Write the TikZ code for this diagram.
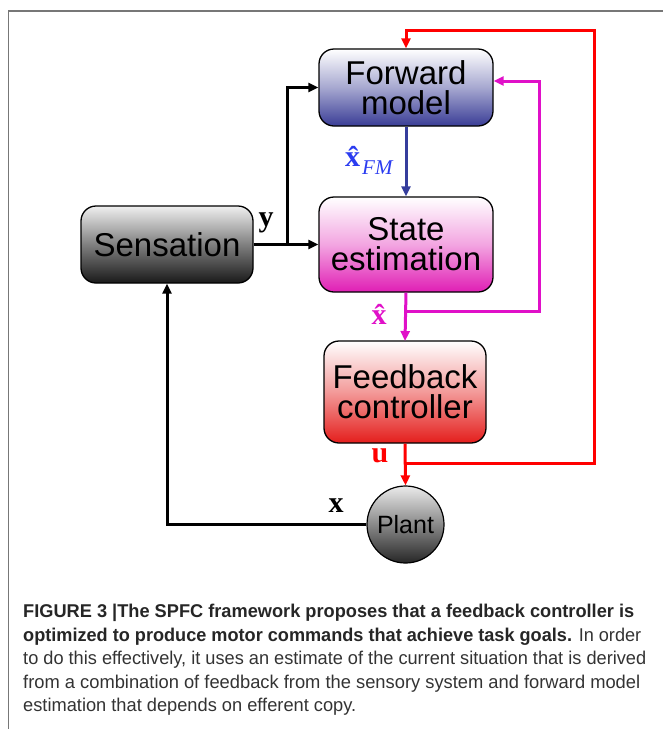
\documentclass[tikz,border=0pt]{standalone}
\usepackage{fontspec}
\usepackage{graphicx}
\setmainfont{Liberation Sans}
\newfontfamily\lblfont{Liberation Serif}
\newfontfamily\capfont{Liberation Sans}
\usetikzlibrary{arrows.meta}
\definecolor{fmblue}{HTML}{3A3D96}
\definecolor{arrblue}{HTML}{353D9C}
\definecolor{lblblue}{HTML}{2B3CF0}
\definecolor{semag}{HTML}{E01EB4}
\definecolor{arrmag}{HTML}{E010C8}
\definecolor{fbred}{HTML}{E41E1C}
\definecolor{arrred}{HTML}{FF0000}
\definecolor{framegray}{HTML}{777777}
\definecolor{captxt}{HTML}{333333}
\tikzset{
  blockbox/.style={draw=black, line width=1.3pt, rounded corners=15pt, align=center,
    font=\fontsize{33}{30}\selectfont, inner sep=0pt},
  conn/.style={line width=3pt, -{Triangle[length=10pt,width=9pt]}},
  plainconn/.style={line width=3pt},
  lbl/.style={font=\lblfont\bfseries\fontsize{30}{30}\selectfont, inner sep=0pt},
  capline/.style={anchor=base west, inner sep=0pt, text=captxt, font=\capfont\fontsize{18.5}{18.5}\selectfont},
}
\begin{document}
\begin{tikzpicture}[x=1pt,y=-1pt]
\useasboundingbox (0,0) rectangle (662,729);
% frame
\draw[framegray, line width=1.6pt] (8.5,740) -- (8.5,11) -- (670,11);

% blocks
\node[blockbox, minimum width=174pt, minimum height=77pt, top color=white, bottom color=fmblue, middle color=fmblue!45!white] (fwd) at (406,87.5) {Forward\\model};
\node[blockbox, minimum width=174pt, minimum height=95pt, top color=white, bottom color=semag, middle color=semag!40!white] (state) at (406,244.5) {State\\estimation};
\node[blockbox, minimum width=172pt, minimum height=77pt, top color=black!6, bottom color=black!90, middle color=black!50] (sens) at (167,244.5) {Sensation};
\node[blockbox, minimum width=162pt, minimum height=102pt, top color=white, bottom color=fbred, middle color=fbred!45!white] (fb) at (405,392) {Feedback\\controller};
\node[circle, draw=black, line width=1.2pt, minimum size=77pt, inner sep=0pt, top color=black!8, bottom color=black!85, font=\fontsize{25}{25}\selectfont] (plant) at (405.5,524.5) {Plant};

% black connectors
\coordinate (jy) at (287,244.5);
\draw[plainconn] (sens.east) -- (jy);
\draw[conn] (jy) -- (state.west);
\draw[conn] (jy) |- (fwd.west);
\draw[conn] (plant.west) -| (sens.south);

% blue
\draw[conn, arrblue] (fwd.south) -- (state.north);

% magenta
\coordinate (jm) at (406,311);
\coordinate (mr) at (539,81);
\draw[conn, arrmag] (state.south) -- (fb.north |- 0,341);
\draw[conn, arrmag] (jm) -| (mr) -- (fwd.east |- mr);

% red
\coordinate (jr) at (405,463);
\coordinate (rr) at (594,30);
\draw[conn, arrred] (fb.south) -- (plant.north);
\draw[conn, arrred] (jr) -| (rr) -| (fwd.north);

% labels
\node[lbl, anchor=base] (ylab) at (266,226) {y};
\node[lbl, anchor=base] (xlab) at (336,512) {x};
\node[lbl, anchor=base, text=arrred] (ulab) at (380,462) {u};
\node[lbl, anchor=base, text=arrmag] (xhlab) at (379,324) {\^x};
\node[lbl, anchor=base west, text=lblblue] (xfmlab) at (345,166) {\^x\hspace{2pt}\raisebox{-8pt}{\fontsize{21}{21}\selectfont\mdseries\itshape FM}};

% caption
\node[capline] (c1) at (23,617) {\resizebox{611pt}{\height}{\bfseries\color{black!85}FIGURE 3 |The SPFC framework proposes that a feedback controller is}};
\node[capline] (c2) at (23,641) {\resizebox{618pt}{\height}{{\bfseries\color{black!85}optimized to produce motor commands that achieve task goals.} In order}};
\node[capline] (c3) at (23,664.5) {\resizebox{623pt}{\height}{to do this effectively, it uses an estimate of the current situation that is derived}};
\node[capline] (c4) at (23,688) {\resizebox{617pt}{\height}{from a combination of feedback from the sensory system and forward model}};
\node[capline] (c5) at (23,711.5) {\resizebox{333pt}{\height}{estimation that depends on efferent copy.}};
\end{tikzpicture}
\end{document}
